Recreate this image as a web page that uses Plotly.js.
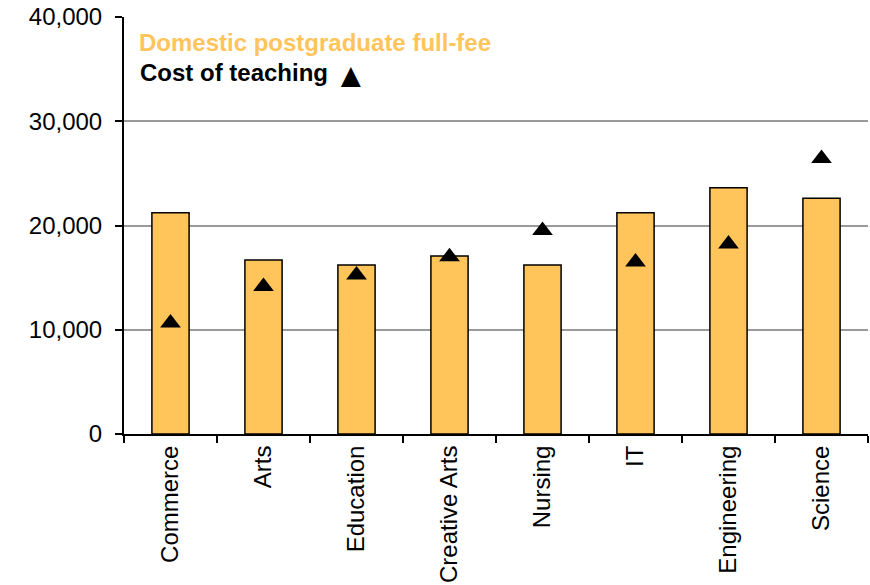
<!DOCTYPE html>
<html>
<head>
<meta charset="utf-8">
<script src="https://cdn.plot.ly/plotly-3.0.1.min.js"></script>
<style>
  body { margin: 0; background: #fff; }
  #plot { width: 870px; height: 585px; }
</style>
</head>
<body>
<div id="plot"></div>
<script>
var fields = ['Commerce', 'Arts', 'Education', 'Creative Arts', 'Nursing', 'IT', 'Engineering', 'Science'];
var fullFee = [21230, 16690, 16210, 17070, 16210, 21230, 23630, 22610];
var teachingCost = [10650, 14150, 15250, 17000, 19520, 16500, 18230, 26430];

var feeBars = {
  x: fields,
  y: fullFee,
  type: 'bar',
  name: 'Domestic postgraduate full-fee',
  width: 0.4,
  marker: { color: '#FFC45A', line: { color: '#000', width: 1.5 } },
  hoverinfo: 'y'
};

var costMarks = {
  x: fields,
  y: teachingCost,
  type: 'scatter',
  mode: 'markers',
  name: 'Cost of teaching',
  marker: { symbol: 'triangle-up', size: 18, color: '#000' },
  hoverinfo: 'y'
};

var layout = {
  width: 870,
  height: 585,
  margin: { l: 124, r: 2, t: 17, b: 151 },
  paper_bgcolor: '#fff',
  plot_bgcolor: '#fff',
  showlegend: false,
  font: { family: 'Liberation Sans, Arial, sans-serif', color: '#000' },
  xaxis: {
    type: 'category',
    showline: true, linecolor: '#000', linewidth: 2,
    ticks: 'outside', tickson: 'boundaries', ticklen: 7, tickcolor: '#000', tickwidth: 1.5,
    tickangle: -90,
    tickfont: { size: 24, color: '#000' },
    showgrid: false,
    range: [-0.5, 7.5]
  },
  yaxis: {
    range: [0, 40000],
    dtick: 10000,
    tickformat: ',d',
    showline: true, linecolor: '#000', linewidth: 2,
    ticks: 'outside', ticklen: 7, tickcolor: '#000', tickwidth: 1.5,
    ticklabelstandoff: 8,
    tickfont: { size: 24, color: '#000' },
    showgrid: true, gridcolor: '#9a9a9a', gridwidth: 1.5,
    zeroline: false
  },
  annotations: [
    {
      xref: 'paper', yref: 'paper', x: 0.018, y: 0.94,
      xanchor: 'left', yanchor: 'middle', showarrow: false,
      text: '<b>Domestic postgraduate full-fee</b>',
      font: { size: 24, color: '#FFC45A' }
    },
    {
      xref: 'paper', yref: 'paper', x: 0.019, y: 0.866,
      xanchor: 'left', yanchor: 'middle', showarrow: false,
      text: '<b>Cost of teaching</b>',
      font: { size: 24, color: '#000' }
    },
    {
      xref: 'paper', yref: 'paper', x: 0.305, y: 0.862,
      xanchor: 'center', yanchor: 'middle', showarrow: false,
      text: '▲',
      font: { size: 34, color: '#000' }
    }
  ]
};

Plotly.newPlot('plot', [feeBars, costMarks], layout, { displayModeBar: false });
</script>
</body>
</html>
